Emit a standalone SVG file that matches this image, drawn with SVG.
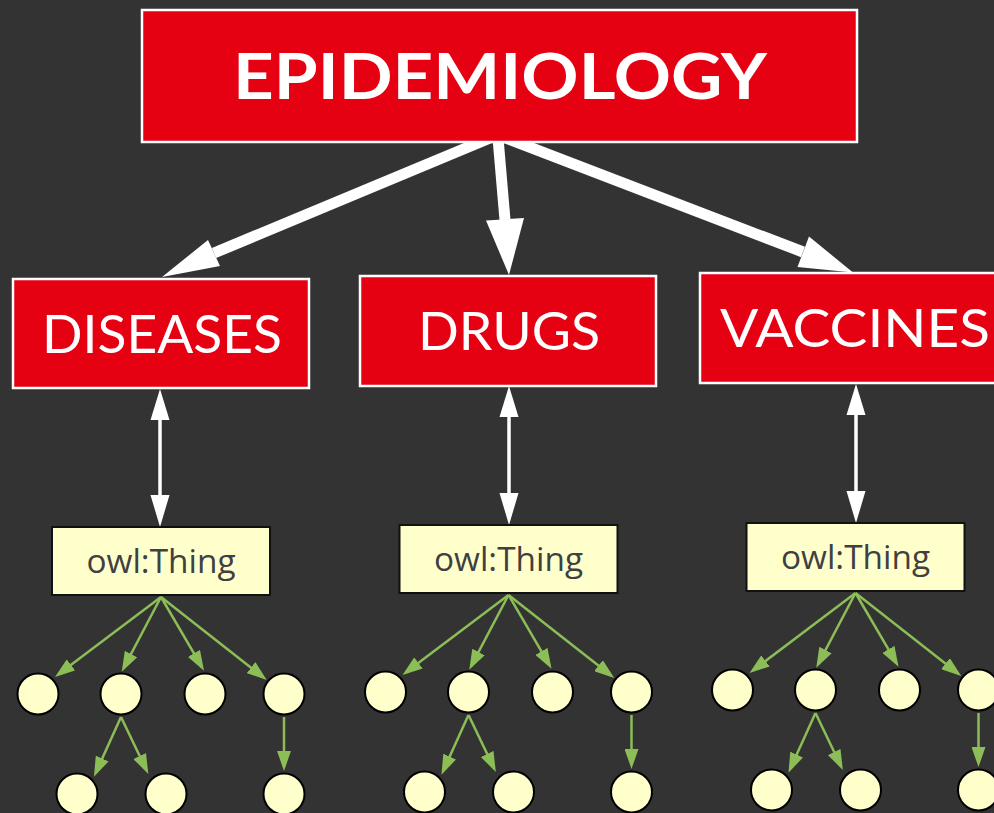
<svg xmlns="http://www.w3.org/2000/svg" width="994" height="813" viewBox="0 0 994 813">
<defs>
<style>
.red{fill:#e50012;stroke:#ffffff;stroke-width:2.5}
.rt{fill:#ffffff;font-family:"Lato","Liberation Sans",sans-serif}
.owl{fill:#ffffcc;stroke:#111111;stroke-width:2}
.ot{fill:#404040;font-family:"Open Sans","Noto Sans",sans-serif;font-size:32px;text-anchor:middle}
.c{fill:#ffffcc;stroke:#000000;stroke-width:2}
.g{stroke:#8cbd57;stroke-width:2.5;fill:none;marker-end:url(#ga)}
.w{stroke:#ffffff;fill:none}
.wh{fill:#ffffff}
</style>
<marker id="ga" markerUnits="userSpaceOnUse" markerWidth="20" markerHeight="14" refX="16" refY="7" orient="auto" viewBox="0 0 20 14">
<path d="M0,0 L20,7 L0,14 z" fill="#8cbd57"/>
</marker>
</defs>
<rect x="0" y="0" width="994" height="813" fill="#333333"/>

<g id="connectors">
  <line class="w" x1="490" y1="138" x2="214" y2="253" stroke-width="11"/>
  <polygon class="wh" points="162,277 208,240 220,266"/>
  <line class="w" x1="498" y1="138" x2="505" y2="220" stroke-width="11"/>
  <polygon class="wh" points="509,275 486,220.5 524,218"/>
  <line class="w" x1="506" y1="138" x2="803" y2="252" stroke-width="11"/>
  <polygon class="wh" points="853,272.5 809,236.5 797.5,267"/>

  <line class="w" x1="160" y1="418" x2="160" y2="497" stroke-width="3.5"/>
  <polygon class="wh" points="160,389 150.5,420 169.5,420"/>
  <polygon class="wh" points="160,527 150.5,495 169.5,495"/>
  <line class="w" x1="509" y1="415" x2="509" y2="495" stroke-width="3.5"/>
  <polygon class="wh" points="509,386 499.5,417 518.5,417"/>
  <polygon class="wh" points="509,525 499.5,493 518.5,493"/>
  <line class="w" x1="856" y1="413" x2="856" y2="493" stroke-width="3.5"/>
  <polygon class="wh" points="856,384 846.5,415 865.5,415"/>
  <polygon class="wh" points="856,523 846.5,491 865.5,491"/>

  <g transform="translate(161,596)">
    <line class="g" x1="0" y1="1" x2="-102.8" y2="78.6"/>
    <line class="g" x1="0" y1="1" x2="-37.4" y2="72.2"/>
    <line class="g" x1="0" y1="1" x2="41" y2="71.2"/>
    <line class="g" x1="0" y1="1" x2="102.6" y2="81.5"/>
    <line class="g" x1="-40" y1="121" x2="-65.4" y2="177.1"/>
    <line class="g" x1="-40" y1="121" x2="-14.4" y2="174.4"/>
    <line class="g" x1="123" y1="121" x2="123" y2="171"/>
  </g>
  <g transform="translate(508.5,594)">
    <line class="g" x1="0" y1="1" x2="-102.8" y2="78.6"/>
    <line class="g" x1="0" y1="1" x2="-37.4" y2="72.2"/>
    <line class="g" x1="0" y1="1" x2="41" y2="71.2"/>
    <line class="g" x1="0" y1="1" x2="102.6" y2="81.5"/>
    <line class="g" x1="-40" y1="121" x2="-65.4" y2="177.1"/>
    <line class="g" x1="-40" y1="121" x2="-14.4" y2="174.4"/>
    <line class="g" x1="123" y1="121" x2="123" y2="171"/>
  </g>
  <g transform="translate(855.5,592)">
    <line class="g" x1="0" y1="1" x2="-102.8" y2="78.6"/>
    <line class="g" x1="0" y1="1" x2="-37.4" y2="72.2"/>
    <line class="g" x1="0" y1="1" x2="41" y2="71.2"/>
    <line class="g" x1="0" y1="1" x2="102.6" y2="81.5"/>
    <line class="g" x1="-40" y1="121" x2="-65.4" y2="177.1"/>
    <line class="g" x1="-40" y1="121" x2="-14.4" y2="174.4"/>
    <line class="g" x1="123" y1="121" x2="123" y2="171"/>
  </g>
</g>

<g id="epidemiology">
  <rect class="red" x="142" y="10" width="715" height="132"/>
  <text class="rt" x="233" y="99" font-size="64" font-weight="bold" textLength="534" lengthAdjust="spacingAndGlyphs">EPIDEMIOLOGY</text>
</g>
<g id="diseases">
  <rect class="red" x="13" y="279" width="296" height="109"/>
  <text class="rt" x="42" y="353" font-size="53" textLength="240" lengthAdjust="spacingAndGlyphs">DISEASES</text>
</g>
<g id="drugs">
  <rect class="red" x="360" y="276" width="296" height="110"/>
  <text class="rt" x="418" y="350" font-size="53" textLength="182" lengthAdjust="spacingAndGlyphs">DRUGS</text>
</g>
<g id="vaccines">
  <rect class="red" x="700" y="273" width="300" height="110"/>
  <text class="rt" x="720" y="347" font-size="53" textLength="270" lengthAdjust="spacingAndGlyphs">VACCINES</text>
</g>

<g transform="translate(161,596)">
  <g id="owl-diseases"><rect class="owl" x="-109" y="-69" width="218" height="68"/><text class="ot" x="0" y="-23" textLength="149" lengthAdjust="spacingAndGlyphs">owl:Thing</text></g>
  <g id="d-c1"><circle class="c" cx="-123" cy="98" r="20.5"/></g>
  <g id="d-c2"><circle class="c" cx="-40" cy="98" r="20.5"/></g>
  <g id="d-c3"><circle class="c" cx="44" cy="98" r="20.5"/></g>
  <g id="d-c4"><circle class="c" cx="123" cy="98" r="20.5"/></g>
  <g id="d-c5"><circle class="c" cx="-84" cy="198" r="20.5"/></g>
  <g id="d-c6"><circle class="c" cx="5" cy="198" r="20.5"/></g>
  <g id="d-c7"><circle class="c" cx="123" cy="198" r="20.5"/></g>
</g>
<g transform="translate(508.5,594)">
  <g id="owl-drugs"><rect class="owl" x="-109" y="-69" width="218" height="68"/><text class="ot" x="0" y="-23" textLength="149" lengthAdjust="spacingAndGlyphs">owl:Thing</text></g>
  <g id="r-c1"><circle class="c" cx="-123" cy="98" r="20.5"/></g>
  <g id="r-c2"><circle class="c" cx="-40" cy="98" r="20.5"/></g>
  <g id="r-c3"><circle class="c" cx="44" cy="98" r="20.5"/></g>
  <g id="r-c4"><circle class="c" cx="123" cy="98" r="20.5"/></g>
  <g id="r-c5"><circle class="c" cx="-84" cy="198" r="20.5"/></g>
  <g id="r-c6"><circle class="c" cx="5" cy="198" r="20.5"/></g>
  <g id="r-c7"><circle class="c" cx="123" cy="198" r="20.5"/></g>
</g>
<g transform="translate(855.5,592)">
  <g id="owl-vaccines"><rect class="owl" x="-109" y="-69" width="218" height="68"/><text class="ot" x="0" y="-23" textLength="149" lengthAdjust="spacingAndGlyphs">owl:Thing</text></g>
  <g id="v-c1"><circle class="c" cx="-123" cy="98" r="20.5"/></g>
  <g id="v-c2"><circle class="c" cx="-40" cy="98" r="20.5"/></g>
  <g id="v-c3"><circle class="c" cx="44" cy="98" r="20.5"/></g>
  <g id="v-c4"><circle class="c" cx="123" cy="98" r="20.5"/></g>
  <g id="v-c5"><circle class="c" cx="-84" cy="198" r="20.5"/></g>
  <g id="v-c6"><circle class="c" cx="5" cy="198" r="20.5"/></g>
  <g id="v-c7"><circle class="c" cx="123" cy="198" r="20.5"/></g>
</g>
</svg>
